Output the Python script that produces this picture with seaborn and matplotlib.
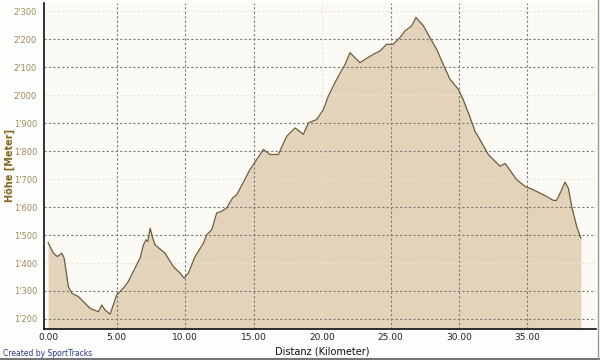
import matplotlib
matplotlib.use("Agg")
import matplotlib.pyplot as plt
from matplotlib.lines import Line2D
import seaborn as sns
import pandas as pd

distance_km = [0.0, 0.39, 0.68, 1.0, 1.17, 1.48, 1.73, 2.21, 2.58, 3.07, 3.67, 3.92, 4.16, 4.53,
               5.01, 5.5, 5.86, 6.47, 6.72, 6.96, 7.15, 7.28, 7.45, 7.64, 7.81, 8.54, 9.15, 9.64,
               9.93, 10.24, 10.73, 11.34, 11.58, 11.95, 12.31, 12.68, 13.04, 13.48, 13.77, 14.0,
               14.74, 15.72, 16.2, 16.81, 17.42, 18.03, 18.64, 19.0, 19.61, 20.1, 20.46, 21.07,
               21.68, 22.04, 22.28, 22.77, 23.14, 23.74, 24.23, 24.72, 25.2, 25.69, 26.06, 26.55,
               26.86, 27.4, 27.88, 28.37, 28.85, 29.34, 29.95, 30.3, 30.68, 31.17, 31.66, 32.14,
               32.75, 33.0, 33.36, 33.6, 34.21, 34.82, 35.42, 36.4, 36.88, 37.13, 37.5, 37.74,
               37.98, 38.23, 38.59, 38.9]
elevation_m = [1473, 1435, 1423, 1435, 1418, 1316, 1292, 1280, 1262, 1238, 1226, 1250, 1232, 1217,
               1286, 1310, 1334, 1394, 1418, 1465, 1483, 1477, 1525, 1489, 1465, 1435, 1387, 1364,
               1346, 1364, 1423, 1471, 1501, 1519, 1579, 1585, 1597, 1633, 1644, 1665,
               1734, 1806, 1788, 1788, 1853, 1883, 1860, 1901, 1913, 1949, 1997, 2057,
               2110, 2152, 2140, 2116, 2128, 2146, 2158, 2182, 2182, 2206, 2230, 2248,
               2278, 2248, 2206, 2164, 2110, 2057, 2021, 1985, 1937, 1871, 1830, 1788,
               1758, 1746, 1756, 1740, 1698, 1674, 1662, 1638, 1624, 1624, 1662, 1689,
               1668, 1602, 1531, 1489]

x_ticks = [0, 5, 10, 15, 20, 25, 30, 35]
y_ticks = [1200, 1300, 1400, 1500, 1600, 1700, 1800, 1900, 2000, 2100, 2200, 2300]
x_label = "Distanz (Kilometer)"
y_label = "Höhe [Meter]"
credit = "Created by SportTracks"

df = pd.DataFrame({"km": distance_km, "m": elevation_m})

sns.set_style("white")
plt.rcParams["font.family"] = ["DejaVu Sans"]

fig = plt.figure(figsize=(6, 3.6), dpi=100, facecolor="#FDFDFB")
ax = fig.add_axes([0.0733, 0.086, 0.92, 0.906])
ax.set_facecolor("#FBFAF4")

ax.fill_between(df["km"], df["m"], 1000, color="#E2D3BA", zorder=1, linewidth=0)
sns.lineplot(data=df, x="km", y="m", ax=ax, color="#6E5C3C", linewidth=0.9, zorder=3)

ax.set_xlim(-0.3, 40.0)
ax.set_ylim(1164, 2330)

# grid
for i, t in enumerate(y_ticks):
    faint = (i % 3 == 2)
    ax.axhline(t, color="#E9E2D2" if faint else "#7A7A7A", linestyle=(0, (2, 2)),
               linewidth=0.8, zorder=2)
for i, t in enumerate(x_ticks):
    if t == 0:
        continue
    faint = (t == 20)
    ax.axvline(t, color="#E9E2D2" if faint else "#7A7A7A", linestyle=(0, (2, 2)),
               linewidth=0.8, zorder=2)

ax.set_xticks(x_ticks)
ax.set_xticklabels([f"{t:.2f}" for t in x_ticks], fontsize=6.5, color="#222222")
ax.set_yticks(y_ticks)
ax.set_yticklabels([f"{t // 1000}'{t % 1000:03d}" for t in y_ticks], fontsize=6, color="#9C8A5A")
ax.tick_params(axis="y", length=3, width=0.8, color="#333333", pad=2)
ax.tick_params(axis="x", length=0, pad=3)

for s in ["top", "right"]:
    ax.spines[s].set_visible(False)
for s in ["left", "bottom"]:
    ax.spines[s].set_color("#111111")
    ax.spines[s].set_linewidth(1.2)

ax.set_xlabel("")
ax.set_ylabel("")
fig.text(322 / 600, 1 - 351 / 360, x_label, ha="center", va="center", fontsize=7,
         color="#111111")
fig.text(10 / 600, 1 - 165 / 360, y_label, ha="center", va="center", rotation=90,
         fontsize=7, fontweight="bold", color="#86661E")
fig.text(3 / 600, 1 - 353 / 360, credit, ha="left", va="center", fontsize=5.5,
         color="#2A3990")

fig.add_artist(Line2D([0, 1], [0.004, 0.004], transform=fig.transFigure, color="#777777",
                      linewidth=1.5))
fig.add_artist(Line2D([0.997, 0.997], [0, 1], transform=fig.transFigure, color="#999999",
                      linewidth=1.0))

fig.savefig("out.png", dpi=100, facecolor=fig.get_facecolor())
